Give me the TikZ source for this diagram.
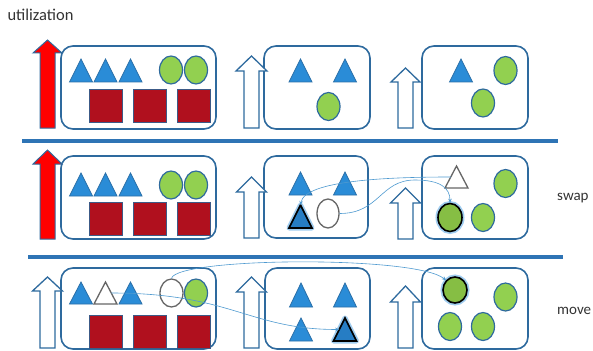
\documentclass[tikz,border=0pt]{standalone}
\usepackage{fontspec}
\setmainfont{Carlito}
\usetikzlibrary{shapes.geometric,arrows.meta}
\definecolor{boxblue}{RGB}{46,106,158}
\definecolor{sepblue}{RGB}{46,116,181}
\definecolor{triblue}{RGB}{42,140,215}
\definecolor{triedge}{RGB}{42,111,168}
\definecolor{grn}{RGB}{146,208,80}
\definecolor{boldgrn}{RGB}{134,190,68}
\definecolor{boldblue}{RGB}{38,125,196}
\definecolor{sqred}{RGB}{176,16,30}
\definecolor{sqedge}{RGB}{60,90,135}
\definecolor{hgray}{RGB}{102,102,102}
\definecolor{glowc}{RGB}{160,205,240}
\definecolor{connc}{RGB}{79,154,208}
\tikzset{
  box/.style={draw=boxblue,line width=1.6pt,rounded corners=12pt,fill=white,inner sep=0pt},
  tri/.style={fill=triblue,draw=triedge,line width=0.8pt},
  htri/.style={fill=white,draw=hgray,line width=1.3pt},
  btri/.style={fill=boldblue,draw=black,line width=1.6pt,
    preaction={draw=glowc,line width=5pt,line join=round}},
  ell/.style={ellipse,minimum width=23pt,minimum height=28pt,inner sep=0pt,
    fill=grn,draw=boxblue,line width=1.2pt},
  hell/.style={ell,fill=white,draw=hgray,line width=1.3pt},
  bell/.style={ell,fill=boldgrn,draw=black,line width=1.6pt,
    preaction={draw=glowc,line width=5pt}},
  sq/.style={rectangle,minimum size=33pt,inner sep=0pt,fill=sqred,draw=sqedge,line width=1pt},
  rarr/.style={fill=red,draw=boxblue,line width=1pt},
  harr/.style={fill=white,draw=boxblue,line width=1.3pt},
  sepline/.style={draw=sepblue,line width=3.5pt},
  conn/.style={draw=connc,line width=0.6pt,-{Stealth[length=4pt,width=3.5pt]}},
  lbl/.style={anchor=base west,inner sep=0pt,text=black!80},
}
% triangle: style, name, cx, top, bottom
\newcommand\mytri[5][tri]{%
  \coordinate (#2-a) at (#3,#4);
  \coordinate (#2-l) at ({#3-11.5},#5);
  \coordinate (#2-r) at ({#3+11.5},#5);
  \coordinate (#2-w) at ({#3-5.75},{(#4+#5)/2});
  \coordinate (#2-e) at ({#3+5.75},{(#4+#5)/2});
  \path[#1] (#2-a) -- (#2-r) -- (#2-l) -- cycle;
}
% up arrow: style, cx, tip, head base, bottom, head half width
\newcommand\uparr[6][harr]{%
  \path[#1] ({#2-7.5},#5) -- ({#2-7.5},#4) -- ({#2-#6},#4) -- (#2,#3)
    -- ({#2+#6},#4) -- ({#2+7.5},#4) -- ({#2+7.5},#5) -- cycle;
}
% rounded box node: name, x1, y1, x2, y2
\newcommand\boxnode[5]{%
  \node[box,minimum width={#4-#2},minimum height={#5-#3}] (#1)
    at ({(#2+#4)/2},{(#3+#5)/2}) {};
}
\begin{document}
\begin{tikzpicture}[x=1pt,y=-1pt]
\useasboundingbox (0,0) rectangle (593,350);

\node[lbl,font=\fontsize{16.5}{20}\selectfont] (tutil) at (7.3,21) {utilization};
\node[lbl,font=\fontsize{15}{18}\selectfont] (tswap) at (557,200) {swap};
\node[lbl,font=\fontsize{15}{18}\selectfont] (tmove) at (557,314.5) {move};

% separators
\coordinate (s1a) at (22,141); \coordinate (s1b) at (558,141);
\coordinate (s2a) at (28,257); \coordinate (s2b) at (563,257);
\draw[sepline] (s1a) -- (s1b);
\draw[sepline] (s2a) -- (s2b);

% ---------- row 1 ----------
\boxnode{b11}{61}{46}{216}{129}
\boxnode{b12}{264}{46}{370}{129}
\boxnode{b13}{422}{46}{528}{129}
\uparr[rarr]{47.5}{40}{53}{128}{14.5}
\uparr{251.5}{56}{71}{128}{15.5}
\uparr{405.5}{68}{82}{128}{14.5}
\mytri{t111}{81}{59}{82}
\mytri{t112}{105.5}{59}{82}
\mytri{t113}{130.5}{59}{82}
\node[ell] (e111) at (171,70) {};
\node[ell] (e112) at (196,70) {};
\node[sq] (q111) at (105.5,106) {};
\node[sq] (q112) at (149.5,106) {};
\node[sq] (q113) at (193.5,106) {};
\mytri{t121}{300.5}{59}{82}
\mytri{t122}{345}{59}{82}
\node[ell] (e121) at (328.5,106.5) {};
\mytri{t131}{461}{59}{82}
\node[ell] (e131) at (505.5,70.5) {};
\node[ell] (e132) at (483,103) {};

% ---------- row 2 ----------
\boxnode{b21}{61}{156}{216}{239}
\boxnode{b22}{264}{156}{368}{238}
\boxnode{b23}{422}{156}{528}{239}
\uparr[rarr]{47.5}{150}{164}{239}{14.5}
\uparr{251.5}{177}{192}{238}{15}
\uparr{405.5}{188}{203}{239}{15}
\mytri{t211}{81}{173}{196}
\mytri{t212}{105.5}{173}{196}
\mytri{t213}{130.5}{173}{196}
\node[ell] (e211) at (171,185) {};
\node[ell] (e212) at (196,185) {};
\node[sq] (q211) at (105.5,219) {};
\node[sq] (q212) at (149.5,219) {};
\node[sq] (q213) at (193.5,219) {};
\mytri{t221}{300.5}{172}{195}
\mytri{t222}{345}{172}{195}
\mytri[btri]{t223}{300.5}{205}{228}
\node[hell,minimum width=22pt,minimum height=29pt] (e221) at (328,213.5) {};
\mytri[htri]{t231}{456.5}{166}{188}
\node[ell] (e231) at (505.5,183.5) {};
\node[bell,minimum width=24pt] (e232) at (450,217.5) {};
\node[ell] (e233) at (483,217.5) {};

% ---------- row 3 ----------
\boxnode{b31}{61}{268}{216}{349}
\boxnode{b32}{265}{268}{370}{349}
\boxnode{b33}{422}{268}{528}{349}
\uparr{47.5}{277}{291}{348}{15}
\uparr{251.5}{277}{292}{348}{15}
\uparr{405.5}{286}{302}{348}{15}
\mytri{t311}{81}{282}{304}
\mytri[htri]{t312}{105.5}{282}{304}
\mytri{t313}{130.5}{282}{304}
\node[hell] (e311) at (171.5,293) {};
\node[ell] (e312) at (196,293) {};
\node[sq] (q311) at (105.5,331.5) {};
\node[sq] (q312) at (149.5,331.5) {};
\node[sq] (q313) at (193.5,331.5) {};
\mytri{t321}{301}{283}{307}
\mytri{t322}{345}{283}{307}
\mytri{t323}{301}{318}{341}
\mytri[btri]{t324}{345}{318}{341}
\node[bell,minimum width=24pt,minimum height=26pt] (e331) at (455,290) {};
\node[ell] (e332) at (505.5,297) {};
\node[ell] (e333) at (450,326.5) {};
\node[ell] (e334) at (483,326.5) {};

% ---------- connectors ----------
% swap
\draw[conn] (t231-w) .. controls +(-60,0) and +(4,-25) .. (t223-a);
\coordinate (pk) at (415,180);
\draw[conn] (e221.east) .. controls +(40,0) and +(-35,0) .. (pk)
  .. controls +(25,0) and +(0,-15) .. (e232.north);
% move
\draw[conn] (e311.north) .. controls +(5,-21) and +(-30,-25) .. (e331.north west);
\draw[conn] (t312-e) .. controls +(120,0) and +(-90,0) .. (t324-w);
\end{tikzpicture}
\end{document}
